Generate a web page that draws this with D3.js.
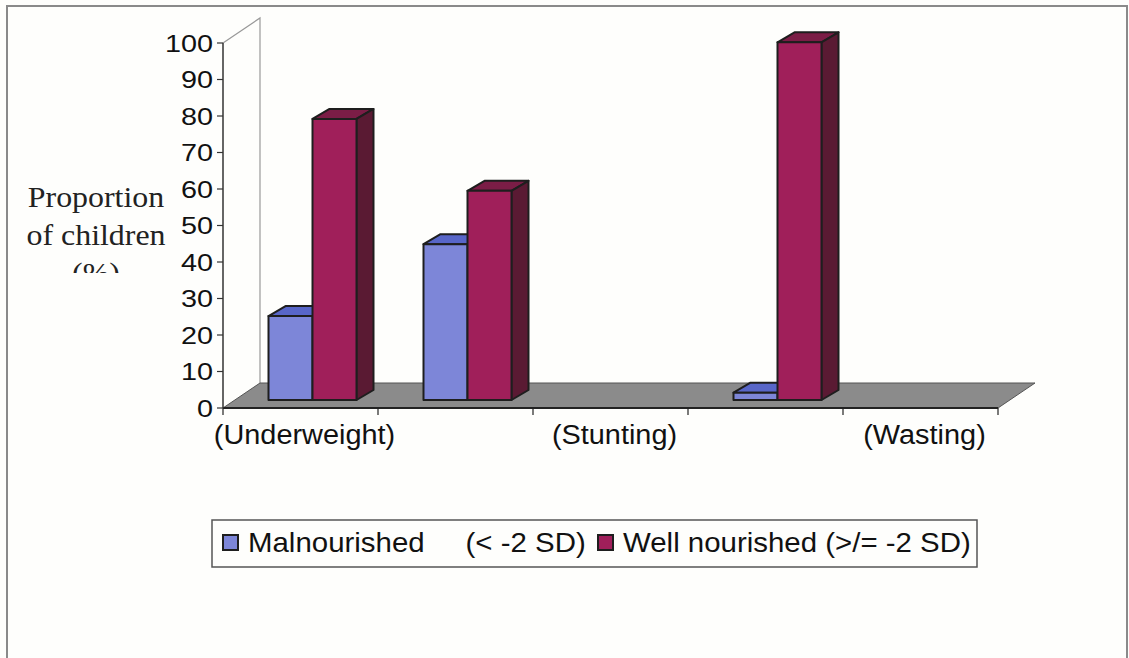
<!DOCTYPE html>
<head>
  <meta charset="utf-8">
  <script src="https://d3js.org/d3.v7.min.js"></script>
  <style>
    body { margin: 0; background: #fefefc; }
    .tick-label { font: 24px "Liberation Sans", Arial, sans-serif; fill: #111; }
    .cat-label { font: 27px "Liberation Sans", Arial, sans-serif; fill: #111; }
    .legend-label { font: 27px "Liberation Sans", Arial, sans-serif; fill: #111; white-space: pre; }
    .title { font: 29px "Liberation Serif", "Times New Roman", serif; fill: #222; }
  </style>
</head>
<body>
<script>
  // values
  var categories = ["(Underweight)", "", "(Stunting)", "", "(Wasting)"];
  var seriesNames = ["Malnourished     (< -2 SD)", "Well nourished (>/= -2 SD)"];
  var malnourished = [23, 42.7, null, 2, null];
  var wellNourished = [77, 57.3, null, 98, null];
  var yTicks = [0, 10, 20, 30, 40, 50, 60, 70, 80, 90, 100];

  var colors = {
    front: ["#7d86d8", "#a01f5a"],
    top:   ["#5866c8", "#7b1d46"],
    side:  ["#4a55a8", "#5a1a33"]
  };

  var W = 1129, H = 658;
  var svg = d3.select("body").append("svg")
      .attr("width", W)
      .attr("height", H);

  // page frame
  svg.append("path")
      .attr("d", "M7," + H + "V6H1127V" + H)
      .attr("fill", "none")
      .attr("stroke", "#8a8a8a")
      .attr("stroke-width", 2);

  var x = d3.scaleBand().domain(d3.range(categories.length)).range([223, 998]);
  var y = d3.scaleLinear().domain([0, 100]).range([408, 43]);

  var depth = {dx: 37, dy: -25};      // floor / wall depth
  var barOff = {dx: 12, dy: -8};      // bar front plane
  var barDepth = {dx: 17, dy: -10};
  var barW = 44;

  // back wall + top edge
  svg.append("path")
      .attr("d", "M223," + y(100) + "L" + (223 + depth.dx) + "," + (y(100) + depth.dy) +
                 "V" + (y(0) + depth.dy))
      .attr("fill", "none")
      .attr("stroke", "#999")
      .attr("stroke-width", 1.2);

  // floor
  var x0 = x.range()[0], x1 = x.range()[1];
  svg.append("path")
      .attr("d", "M" + x0 + "," + y(0) + "L" + x1 + "," + y(0) +
                 "L" + (x1 + depth.dx) + "," + (y(0) + depth.dy) +
                 "L" + (x0 + depth.dx) + "," + (y(0) + depth.dy) + "Z")
      .attr("fill", "#8b8b8b")
      .attr("stroke", "#555")
      .attr("stroke-width", 1);
  svg.append("line")
      .attr("x1", x0).attr("x2", x1)
      .attr("y1", y(0)).attr("y2", y(0))
      .attr("stroke", "#222").attr("stroke-width", 2);

  // category ticks
  var catTicks = d3.range(categories.length + 1).map(function(i) {
    return i < categories.length ? x(i) : x1;
  });
  svg.selectAll(".ctick").data(catTicks).enter().append("line")
      .attr("x1", function(d) { return d; }).attr("x2", function(d) { return d; })
      .attr("y1", y(0)).attr("y2", y(0) + 7)
      .attr("stroke", "#222").attr("stroke-width", 1.2);

  // y axis
  svg.append("line")
      .attr("x1", 223).attr("x2", 223)
      .attr("y1", y(100)).attr("y2", y(0))
      .attr("stroke", "#333").attr("stroke-width", 1.5);
  svg.selectAll(".ytick").data(yTicks).enter().append("line")
      .attr("x1", 217).attr("x2", 223)
      .attr("y1", function(d) { return y(d); }).attr("y2", function(d) { return y(d); })
      .attr("stroke", "#333").attr("stroke-width", 1.2);
  svg.selectAll(".ylab").data(yTicks).enter().append("g")
      .attr("transform", function(d) { return "translate(213," + y(d) + ") scale(1.2,1)"; })
    .append("text")
      .attr("class", "tick-label")
      .attr("text-anchor", "end")
      .attr("dy", "0.36em")
      .text(function(d) { return d; });

  // category labels
  svg.selectAll(".clab").data(categories).enter().append("g")
      .attr("transform", function(d, i) { return "translate(" + (x(i) + x.bandwidth() / 2 + 4) + ",444) scale(1.07,1)"; })
    .append("text")
      .attr("class", "cat-label")
      .attr("text-anchor", "middle")
      .text(function(d) { return d; });

  // bars
  var series = [malnourished, wellNourished];
  function box(g, cx, v, s) {
    if (v == null) return;
    var left = cx + barOff.dx + (s === 0 ? -barW : 0);
    var right = left + barW;
    var top = y(v) + barOff.dy, bottom = y(0) + barOff.dy;
    var dx = barDepth.dx, dy = barDepth.dy;
    g.append("path")
        .attr("d", "M" + left + "," + top + "L" + (left + dx) + "," + (top + dy) +
                   "L" + (right + dx) + "," + (top + dy) + "L" + right + "," + top + "Z")
        .attr("fill", colors.top[s]);
    g.append("path")
        .attr("d", "M" + right + "," + top + "L" + (right + dx) + "," + (top + dy) +
                   "L" + (right + dx) + "," + (bottom + dy) + "L" + right + "," + bottom + "Z")
        .attr("fill", colors.side[s]);
    g.append("rect")
        .attr("x", left).attr("y", top)
        .attr("width", barW).attr("height", bottom - top)
        .attr("fill", colors.front[s]);
    g.selectAll("path, rect")
        .attr("stroke", "#1e1e1e").attr("stroke-width", 2).attr("stroke-linejoin", "round");
  }
  categories.forEach(function(c, i) {
    var cx = x(i) + x.bandwidth() / 2;
    series.forEach(function(vals, s) {
      box(svg.append("g"), cx, vals[i], s);
    });
  });

  // y title (last line clipped like the original)
  svg.append("clipPath").attr("id", "tclip")
    .append("rect").attr("x", 0).attr("y", 0).attr("width", 220).attr("height", 273);
  var title = svg.append("g").attr("clip-path", "url(#tclip)");
  ["Proportion", "of children", "(%)"].forEach(function(t, i) {
    title.append("g")
        .attr("transform", "translate(96," + (207 + i * 38) + ") scale(1.1,1)")
      .append("text")
        .attr("class", "title")
        .attr("text-anchor", "middle")
        .text(t);
  });

  // legend
  svg.append("rect")
      .attr("x", 212).attr("y", 520)
      .attr("width", 765).attr("height", 47)
      .attr("fill", "none")
      .attr("stroke", "#555").attr("stroke-width", 1.5);
  var legX = [223, 598];
  seriesNames.forEach(function(name, s) {
    svg.append("rect")
        .attr("x", legX[s]).attr("y", 535)
        .attr("width", 15).attr("height", 15)
        .attr("fill", colors.front[s])
        .attr("stroke", "#1e1e1e").attr("stroke-width", 2);
    svg.append("g")
        .attr("transform", "translate(" + (legX[s] + 25) + ",552) scale(1.09,1)")
      .append("text")
        .attr("class", "legend-label")
        .text(name);
  });
</script>
</body>
